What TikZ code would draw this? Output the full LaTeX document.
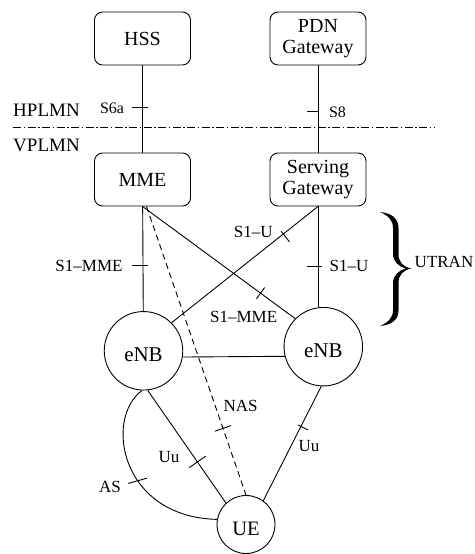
\documentclass[tikz,border=0pt]{standalone}
\usepackage{fontspec}
\setmainfont{Liberation Serif}
\usetikzlibrary{calc}
\begin{document}
\begin{tikzpicture}[x=1pt,y=-1pt,
  box/.style={draw, rounded corners=8pt, minimum width=96pt, minimum height=53pt,
    align=center, inner sep=2pt, font=\fontsize{20}{21}\selectfont, line width=0.9pt},
  station/.style={draw, circle, inner sep=0pt, line width=0.9pt,
    text height=21pt, text depth=0pt, font=\fontsize{21}{24}\selectfont},
  lab/.style={font=\fontsize{17}{20}\selectfont, inner sep=0pt},
  biglab/.style={font=\fontsize{19}{22}\selectfont, inner sep=0pt},
  smalllab/.style={font=\fontsize{16}{19}\selectfont, inner sep=0pt},
  conn/.style={line width=0.9pt},
  tickmark/.style={line width=0.9pt},
  nasline/.style={line width=0.9pt, dash pattern=on 6pt off 4pt},
  border/.style={line width=1pt, dash pattern=on 8pt off 2.5pt on 1.5pt off 2.5pt}
]
\useasboundingbox (0,0) rectangle (474,554);

% nodes
\node[box] (HSS) at (142.5,38.5) {HSS};
\node[box] (PDN) at (318,38.5) {PDN\\Gateway};
\node[box] (MME) at (142.5,179.5) {MME};
\node[box] (SGW) at (318,179.5) {Serving\\Gateway};
\node[station, minimum size=78.5pt] (E1) at (143.5,350.8) {eNB};
\node[station, minimum size=78.5pt] (E2) at (323.3,346.7) {eNB};
\node[station, minimum size=58pt, font=\fontsize{20.5}{24}\selectfont] (UE) at (246,524.5) {UE};

% HPLMN / VPLMN boundary
\coordinate (bL) at (13,127);
\coordinate (bR) at (434,127);
\draw[border] (bL) -- (bR);
\node[biglab] (hp) at (46.5,110.5) {HPLMN};
\node[biglab] (vp) at (46.5,145.5) {VPLMN};

% HSS - MME (S6a)
\draw[conn] (HSS) -- (MME) coordinate[pos=0.48] (tA);
\draw[tickmark] ($(tA)+(-11,0)$) -- ($(tA)+(5,0)$);
\node[smalllab] (s6a) at (112,108) {S6a};

% PDN - SGW (S8)
\draw[conn] (PDN) -- (SGW) coordinate[pos=0.53] (tB);
\draw[tickmark] ($(tB)+(-11,0)$) -- ($(tB)+(1,0)$);
\node[smalllab] (s8) at (337.5,112) {S8};

% MME - eNB1 (S1-MME)
\draw[conn] (MME) -- (E1) coordinate[pos=0.566] (tC);
\draw[tickmark] ($(tC)+(-11,0)$) -- ($(tC)+(5,0)$);
\node[lab] (s1mmeL) at (89,266) {S1–MME};

% SGW - eNB2 (S1-U)
\draw[conn] (SGW.south) -- (SGW.south |- E2.north) coordinate[pos=0.594] (tD);
\draw[tickmark] ($(tD)+(-11,0)$) -- ($(tD)+(4,0)$);
\node[lab] (s1uR) at (349,266) {S1–U};

% MME - eNB2 (S1-MME diagonal)
\draw[conn] (MME.south) -- (E2.135) coordinate[pos=0.773] (tE);
\draw[tickmark] ($(tE)!7pt!90:(E2.135)$) -- ($(tE)!7pt!-90:(E2.135)$);
\node[lab] (s1mmeD) at (243.7,316.7) {S1–MME};

% SGW - eNB1 (S1-U diagonal)
\draw[conn] (SGW.south) -- (E1.45) coordinate[pos=0.237] (tF);
\draw[tickmark] ($(tF)!10pt!90:(E1.45)$) -- ($(tF)!3.5pt!-90:(E1.45)$);
\node[lab] (s1uD) at (253.3,231.7) {S1–U};

% eNB - eNB
\draw[conn] (E1.-9) -- (E2.194.7);

% NAS dashed
\draw[nasline] ([xshift=4pt]MME.south) -- (UE.north) coordinate[pos=0.769] (tG);
\draw[tickmark] ($(tG)!8.5pt!90:(UE.north)$) -- ($(tG)!8.5pt!-90:(UE.north)$);
\node[lab] (nas) at (240.7,405.7) {NAS};

% eNB1 - UE (Uu)
\draw[conn] (E1.-84) -- (UE.133) coordinate[pos=0.636] (tH);
\draw[tickmark] ($(tH)!10pt!90:(UE.133)$) -- ($(tH)!10pt!-90:(UE.133)$);
\node[lab] (uuL) at (169,456.7) {Uu};

% eNB2 - UE (Uu)
\draw[conn] (E2.-93) -- (UE.54) coordinate[pos=0.35] (tI);
\draw[tickmark] ($(tI)!8pt!90:(UE.54)$) -- ($(tI)!3pt!-90:(UE.54)$);
\node[lab] (uuR) at (309,445.8) {Uu};

% AS arc
\draw[conn] (E1.-92) .. controls (104,418) and (120,517) .. (UE.170) coordinate[pos=0.6] (tJ);
\draw[tickmark] ($(tJ)+(-9.5,2.5)$) -- ($(tJ)+(9,-2.7)$);
\node[lab] (as) at (110,486.7) {AS};

% UTRAN brace (filled, tapered)
\fill (380,212) .. controls (391,213) and (398.5,218) .. (398.5,228)
  -- (398.5,254) .. controls (398.5,262) and (403,267) .. (411.5,268.5)
  .. controls (403,270) and (398.5,275) .. (398.5,283)
  -- (398.5,311) .. controls (398.5,320) and (391,325) .. (380,326)
  .. controls (388,322.5) and (393,318) .. (393,310)
  -- (393,283) .. controls (393,275.5) and (399,270) .. (406,268.5)
  .. controls (399,267) and (393,261.5) .. (393,254)
  -- (393,228) .. controls (393,220) and (388,215.5) .. (380,212) -- cycle;
\node[lab] (utran) at (444,262) {UTRAN};
\end{tikzpicture}
\end{document}
